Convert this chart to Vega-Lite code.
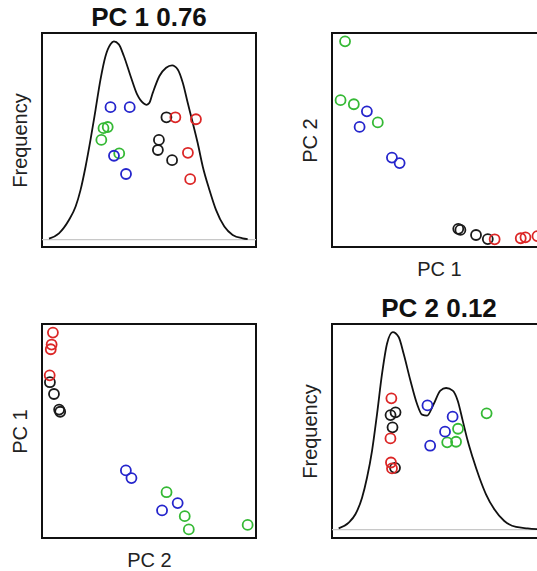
{
  "$schema": "https://vega.github.io/schema/vega-lite/v6.json",
  "padding": {"left": 9, "top": 4, "right": 0, "bottom": 0},
  "background": "white",
  "datasets": {
    "pts": [
      {"id": "g1", "grp": "green", "pc1": 0.061, "pc2": 0.961, "j1": 0.562, "j2": 0.589},
      {"id": "g2", "grp": "green", "pc1": 0.040, "pc2": 0.686, "j1": 0.503, "j2": 0.511},
      {"id": "g3", "grp": "green", "pc1": 0.102, "pc2": 0.667, "j1": 0.568, "j2": 0.445},
      {"id": "g4", "grp": "green", "pc1": 0.214, "pc2": 0.582, "j1": 0.435, "j2": 0.442},
      {"id": "b1", "grp": "blue", "pc1": 0.163, "pc2": 0.634, "j1": 0.423, "j2": 0.572},
      {"id": "b2", "grp": "blue", "pc1": 0.129, "pc2": 0.561, "j1": 0.668, "j2": 0.496},
      {"id": "b3", "grp": "blue", "pc1": 0.280, "pc2": 0.418, "j1": 0.331, "j2": 0.425},
      {"id": "b4", "grp": "blue", "pc1": 0.316, "pc2": 0.392, "j1": 0.668, "j2": 0.629},
      {"id": "k1", "grp": "black", "pc1": 0.590, "pc2": 0.085, "j1": 0.452, "j2": 0.594},
      {"id": "k2", "grp": "black", "pc1": 0.600, "pc2": 0.080, "j1": 0.503, "j2": 0.313},
      {"id": "k3", "grp": "black", "pc1": 0.673, "pc2": 0.056, "j1": 0.617, "j2": 0.518},
      {"id": "k4", "grp": "black", "pc1": 0.728, "pc2": 0.037, "j1": 0.401, "j2": 0.580},
      {"id": "r1", "grp": "red", "pc1": 0.760, "pc2": 0.036, "j1": 0.617, "j2": 0.462},
      {"id": "r2", "grp": "red", "pc1": 0.882, "pc2": 0.041, "j1": 0.438, "j2": 0.340},
      {"id": "r3", "grp": "red", "pc1": 0.904, "pc2": 0.045, "j1": 0.305, "j2": 0.665},
      {"id": "r4", "grp": "red", "pc1": 0.960, "pc2": 0.051, "j1": 0.607, "j2": 0.310}
    ],
    "d1": [
      {"v": -0.469, "d": 0.005}, {"v": -0.372, "d": 0.032}, {"v": -0.275, "d": 0.099},
      {"v": -0.210, "d": 0.167}, {"v": -0.162, "d": 0.251}, {"v": -0.113, "d": 0.369},
      {"v": -0.065, "d": 0.504}, {"v": -0.016, "d": 0.656}, {"v": 0.032, "d": 0.808},
      {"v": 0.081, "d": 0.926}, {"v": 0.129, "d": 0.985}, {"v": 0.162, "d": 1.000},
      {"v": 0.210, "d": 0.985}, {"v": 0.259, "d": 0.926}, {"v": 0.324, "d": 0.825},
      {"v": 0.388, "d": 0.732}, {"v": 0.453, "d": 0.686}, {"v": 0.478, "d": 0.680},
      {"v": 0.505, "d": 0.688}, {"v": 0.540, "d": 0.740}, {"v": 0.605, "d": 0.825},
      {"v": 0.670, "d": 0.867}, {"v": 0.728, "d": 0.879}, {"v": 0.783, "d": 0.858},
      {"v": 0.832, "d": 0.791}, {"v": 0.880, "d": 0.690}, {"v": 0.929, "d": 0.589},
      {"v": 0.977, "d": 0.487}, {"v": 1.026, "d": 0.369}, {"v": 1.091, "d": 0.251},
      {"v": 1.155, "d": 0.150}, {"v": 1.236, "d": 0.066}, {"v": 1.317, "d": 0.024},
      {"v": 1.414, "d": 0.007}, {"v": 1.463, "d": 0.003}
    ],
    "d2": [
      {"v": -0.462, "d": 0.007}, {"v": -0.365, "d": 0.036}, {"v": -0.301, "d": 0.078},
      {"v": -0.237, "d": 0.162}, {"v": -0.189, "d": 0.264}, {"v": -0.141, "d": 0.399},
      {"v": -0.093, "d": 0.585}, {"v": -0.045, "d": 0.788}, {"v": 0.003, "d": 0.941},
      {"v": 0.058, "d": 1.000}, {"v": 0.115, "d": 0.975}, {"v": 0.163, "d": 0.890},
      {"v": 0.228, "d": 0.755}, {"v": 0.292, "d": 0.636}, {"v": 0.340, "d": 0.582},
      {"v": 0.388, "d": 0.577}, {"v": 0.452, "d": 0.636}, {"v": 0.516, "d": 0.704},
      {"v": 0.571, "d": 0.717}, {"v": 0.635, "d": 0.704}, {"v": 0.683, "d": 0.653},
      {"v": 0.731, "d": 0.552}, {"v": 0.779, "d": 0.450}, {"v": 0.827, "d": 0.365},
      {"v": 0.891, "d": 0.264}, {"v": 0.955, "d": 0.179}, {"v": 1.035, "d": 0.103},
      {"v": 1.131, "d": 0.044}, {"v": 1.244, "d": 0.014}, {"v": 1.356, "d": 0.007},
      {"v": 1.460, "d": 0.002}
    ]
  },
  "config": {
    "font": "Liberation Sans",
    "view": {"stroke": "#111111", "strokeWidth": 2},
    "axis": {"labels": false, "ticks": false, "domain": false, "grid": false, "titleFont": "Liberation Sans", "titleFontSize": 20, "titleFontWeight": "normal", "titleColor": "#222222", "titlePadding": 12},
    "title": {"font": "Liberation Sans", "fontSize": 26, "fontWeight": "bold", "color": "#111111", "offset": 2}
  },
  "columns": 2,
  "bounds": "flush",
  "spacing": {"row": 77, "column": 76},
  "concat": [
    {
      "width": 214, "height": 214,
      "title": "PC 1 0.76",
      "layer": [
        {"data": {"values": [{"base": 0}]}, "mark": {"type": "rule", "color": "#c8c8c8", "strokeWidth": 1.2},
         "encoding": {"y": {"field": "base", "type": "quantitative", "title": "Frequency", "scale": {"domain": [-0.037, 1.042], "nice": false, "zero": false}}}},
        {"data": {"name": "d1"}, "mark": {"type": "line", "color": "#111111", "strokeWidth": 1.8, "interpolate": "monotone"},
         "encoding": {
           "x": {"field": "v", "type": "quantitative", "title": null, "scale": {"domain": [-0.537, 1.544], "nice": false, "zero": false}},
           "y": {"field": "d", "type": "quantitative", "title": "Frequency", "scale": {"domain": [-0.037, 1.042], "nice": false, "zero": false}}}},
        {"data": {"name": "pts"}, "mark": {"type": "point", "shape": "circle", "filled": false, "size": 100, "strokeWidth": 1.8, "opacity": 1},
         "encoding": {
           "x": {"field": "pc1", "type": "quantitative", "title": null, "scale": {"domain": [-0.537, 1.544], "nice": false, "zero": false}},
           "y": {"field": "j1", "type": "quantitative", "title": "Frequency", "scale": {"domain": [-0.037, 1.042], "nice": false, "zero": false}},
           "color": {"field": "grp", "type": "nominal", "legend": null, "scale": {"domain": ["black", "red", "green", "blue"], "range": ["#1a1a1a", "#dc2626", "#35b935", "#2525cc"]}}}}
      ]
    },
    {
      "width": 214, "height": 214,
      "data": {"name": "pts"},
      "mark": {"type": "point", "shape": "circle", "filled": false, "size": 100, "strokeWidth": 1.8, "opacity": 1},
      "encoding": {
        "x": {"field": "pc1", "type": "quantitative", "title": "PC 1", "scale": {"domain": [0, 1], "nice": false, "zero": false}},
        "y": {"field": "pc2", "type": "quantitative", "title": "PC 2", "scale": {"domain": [0, 1], "nice": false, "zero": false}},
        "color": {"field": "grp", "type": "nominal", "legend": null, "scale": {"domain": ["black", "red", "green", "blue"], "range": ["#1a1a1a", "#dc2626", "#35b935", "#2525cc"]}}
      }
    },
    {
      "width": 214, "height": 214,
      "data": {"name": "pts"},
      "mark": {"type": "point", "shape": "circle", "filled": false, "size": 100, "strokeWidth": 1.8, "opacity": 1},
      "encoding": {
        "x": {"field": "pc2", "type": "quantitative", "title": "PC 2", "scale": {"domain": [0, 1], "nice": false, "zero": false}},
        "y": {"field": "pc1", "type": "quantitative", "title": "PC 1", "scale": {"domain": [0, 1], "nice": false, "zero": false}},
        "color": {"field": "grp", "type": "nominal", "legend": null, "scale": {"domain": ["black", "red", "green", "blue"], "range": ["#1a1a1a", "#dc2626", "#35b935", "#2525cc"]}}
      }
    },
    {
      "width": 214, "height": 214,
      "title": "PC 2 0.12",
      "layer": [
        {"data": {"values": [{"base": 0}]}, "mark": {"type": "rule", "color": "#c8c8c8", "strokeWidth": 1.2},
         "encoding": {"y": {"field": "base", "type": "quantitative", "title": "Frequency", "scale": {"domain": [-0.042, 1.041], "nice": false, "zero": false}}}},
        {"data": {"name": "d2"}, "mark": {"type": "line", "color": "#111111", "strokeWidth": 1.8, "interpolate": "monotone"},
         "encoding": {
           "x": {"field": "v", "type": "quantitative", "title": null, "scale": {"domain": [-0.526, 1.532], "nice": false, "zero": false}},
           "y": {"field": "d", "type": "quantitative", "title": "Frequency", "scale": {"domain": [-0.042, 1.041], "nice": false, "zero": false}}}},
        {"data": {"name": "pts"}, "mark": {"type": "point", "shape": "circle", "filled": false, "size": 100, "strokeWidth": 1.8, "opacity": 1},
         "encoding": {
           "x": {"field": "pc2", "type": "quantitative", "title": null, "scale": {"domain": [-0.526, 1.532], "nice": false, "zero": false}},
           "y": {"field": "j2", "type": "quantitative", "title": "Frequency", "scale": {"domain": [-0.042, 1.041], "nice": false, "zero": false}},
           "color": {"field": "grp", "type": "nominal", "legend": null, "scale": {"domain": ["black", "red", "green", "blue"], "range": ["#1a1a1a", "#dc2626", "#35b935", "#2525cc"]}}}}
      ]
    }
  ]
}
